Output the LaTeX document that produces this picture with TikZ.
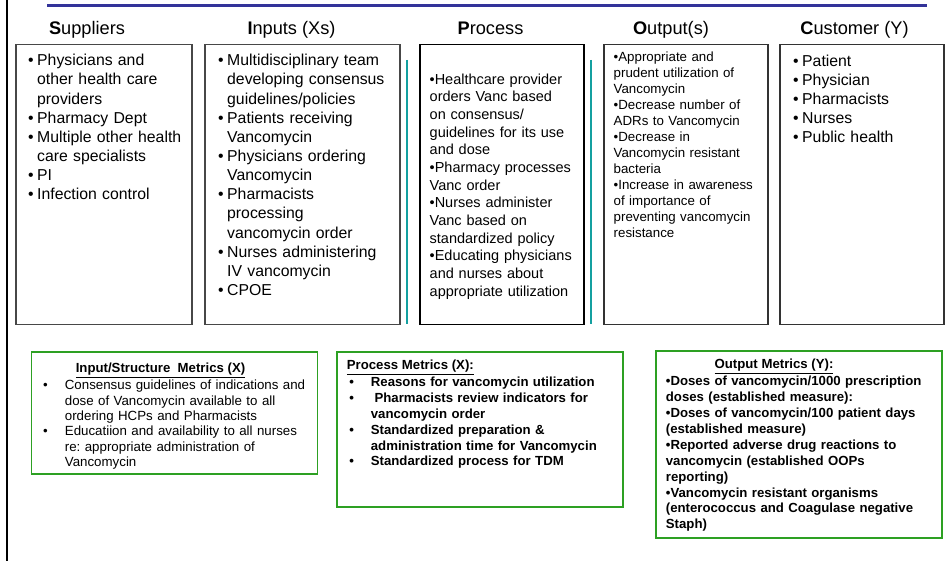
\documentclass[tikz,border=0pt]{standalone}
\usepackage{fontspec}
\setmainfont{Liberation Sans}
\frenchspacing
\definecolor{topblue}{RGB}{51,51,153}
\definecolor{septeal}{RGB}{20,160,160}
\definecolor{metgreen}{RGB}{45,160,35}
\newcommand{\bulitem}[1][3.5pt]{\leavevmode\llap{•\hspace{#1}}}
\begin{document}
\begin{tikzpicture}[x=1pt,y=-1pt,
  box/.style={draw=black!72, line width=1.5pt, anchor=north west, inner sep=0, minimum height=280pt},
  metbox/.style={draw=metgreen, line width=1.8pt, anchor=north west, inner sep=0},
  header/.style={anchor=base, inner sep=0, font=\fontsize{18.2}{22}\selectfont},
  bigtext/.style={anchor=base west, inner sep=0, text width=175pt, align=left, font=\fontsize{15.8}{19.15}\selectfont},
  proctext/.style={anchor=base west, inner sep=0, text width=165pt, align=left, font=\fontsize{14.5}{17.67}\selectfont},
  outtext/.style={anchor=base west, inner sep=0, text width=160pt, align=left, font=\fontsize{13.3}{16}\selectfont},
  mettext/.style={anchor=base west, inner sep=0, text width=280pt, align=left, font=\fontsize{13.3}{15.4}\selectfont},
  metbold/.style={anchor=base west, inner sep=0, text width=290pt, align=left, font=\bfseries\fontsize{13.2}{15.9}\selectfont},
  mettitle/.style={inner sep=0, font=\bfseries\fontsize{13.2}{16}\selectfont}
]
\useasboundingbox (0,0) rectangle (951,561);
\fill[white] (0,0) rectangle (951,561);

% frame lines
\draw[line width=2.6pt, black] (7,0) -- (7,561);
\draw[line width=3pt, topblue] (47,5.5) -- (927,5.5);

% headers
\node[header] (hs) at (87,35) {\textbf{S}uppliers};
\node[header] (hi) at (291.5,35) {\textbf{I}nputs (Xs)};
\node[header] (hp) at (490.5,35) {\textbf{P}rocess};
\node[header] (ho) at (671,35) {\textbf{O}utput(s)};
\node[header] (hc) at (854.5,35) {\textbf{C}ustomer (Y)};

% top boxes
\node[box, minimum width=176pt] (sup) at (15,44) {};
\node[box, minimum width=195pt] (inp) at (204,44) {};
\node[box, draw=black, minimum width=164pt] (proc) at (419,44) {};
\node[box, draw=black!80, minimum width=164pt] (out) at (603,44) {};
\node[box, draw=black!80, minimum width=164pt] (cus) at (779,44) {};

% teal separators
\draw[line width=2.8pt, septeal] (407,60) -- (407,324);
\draw[line width=2.8pt, septeal] (591,60) -- (591,324);

% box texts
\node[bigtext] (tsup) at (37,65.8) {\bulitem Physicians and\\other health care\\providers\\\bulitem Pharmacy Dept\\\bulitem Multiple other health\\care specialists\\\bulitem PI\\\bulitem Infection control};

\node[bigtext] (tinp) at (227,65.8) {\bulitem Multidisciplinary team\\developing consensus\\guidelines/policies\\\bulitem Patients receiving\\Vancomycin\\\bulitem Physicians ordering\\Vancomycin\\\bulitem Pharmacists\\processing\\vancomycin order\\\bulitem Nurses administering\\IV vancomycin\\\bulitem CPOE};

\node[proctext] (tproc) at (429.5,84.3) {•Healthcare provider\\orders Vanc based\\on consensus/\\guidelines for its use\\and dose\\•Pharmacy processes\\Vanc order\\•Nurses administer\\Vanc based on\\standardized policy\\•Educating physicians\\and nurses about\\appropriate utilization};

\node[outtext] (tout) at (613.5,61.8) {•Appropriate and\\prudent utilization of\\Vancomycin\\•Decrease number of\\ADRs to Vancomycin\\•Decrease in\\Vancomycin resistant\\bacteria\\•Increase in awareness\\of importance of\\preventing vancomycin\\resistance};

\node[bigtext] (tcus) at (802,66.4) {\bulitem Patient\\\bulitem Physician\\\bulitem Pharmacists\\\bulitem Nurses\\\bulitem Public health};

% metric boxes
\node[metbox, minimum width=286pt, minimum height=122pt] (mi) at (30.5,351) {};
\node[metbox, minimum width=286pt, minimum height=155pt] (mp) at (336,351) {};
\node[metbox, minimum width=286pt, minimum height=187pt] (mo) at (655,350) {};

\node[mettitle, anchor=base] (mit) at (160.5,372.7) {\underline{Input/Structure\ \ Metrics (X)}};
\node[mettext] (mib) at (64.7,389.8) {\bulitem[17pt]Consensus guidelines of indications and\\dose of Vancomycin available to all\\ordering HCPs and Pharmacists\\\bulitem[17pt]Educatiion and availability to all nurses\\re: appropriate administration of\\Vancomycin};

\node[mettitle, anchor=base west] (mpt) at (346.7,369.8) {\underline{Process Metrics (X):}};
\node[metbold] (mpb) at (370.7,386.5) {\bulitem[17pt]Reasons for vancomycin utilization\\\bulitem[17pt]\hspace{3.7pt}Pharmacists review indicators for\\vancomycin order\\\bulitem[17pt]Standardized preparation \&\\administration time for Vancomycin\\\bulitem[17pt]Standardized process for TDM};

\node[mettitle, anchor=base] (mot) at (774,369) {\underline{Output Metrics (Y):}};
\node[metbold] (mob) at (665.7,385.8) {•Doses of vancomycin/1000 prescription\\doses (established measure):\\•Doses of vancomycin/100 patient days\\(established measure)\\•Reported adverse drug reactions to\\vancomycin (established OOPs\\reporting)\\•Vancomycin resistant organisms\\(enterococcus and Coagulase negative\\Staph)};
\end{tikzpicture}
\end{document}
